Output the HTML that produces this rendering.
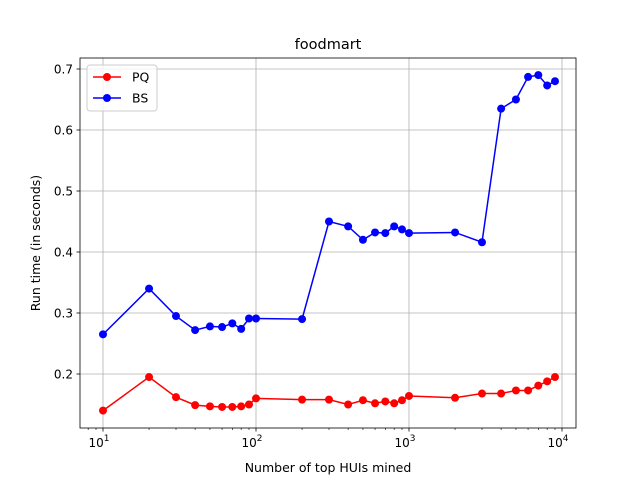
<!DOCTYPE html>
<html><head><meta charset="utf-8"><style>body{margin:0;background:#fff}svg{display:block;font-family:"DejaVu Sans","Liberation Sans",sans-serif}</style></head>
<body>
<svg id="chart" width="640" height="480"></svg>
<script>
const xVals=[10,20,30,40,50,60,70,80,90,100,200,300,400,500,600,700,800,900,1000,2000,3000,4000,5000,6000,7000,8000,9000];
const pqVals=[.140,.195,.162,.149,.147,.146,.146,.147,.150,.160,.158,.158,.150,.157,.152,.155,.152,.157,.164,.161,.168,.168,.173,.173,.181,.188,.195];
const bsVals=[.265,.340,.295,.272,.278,.277,.283,.274,.291,.291,.290,.450,.442,.420,.432,.431,.442,.437,.431,.432,.416,.635,.650,.687,.690,.673,.680];
const yTicks=[0.2,0.3,0.4,0.5,0.6,0.7];
const xTicks=[1,2,3,4];
const NS="http://www.w3.org/2000/svg";
const svg=document.getElementById('chart');
const L=80,R=576,T=58,B=428;
const sx=v=>103+153*(Math.log10(v)-1);
const sy=v=>374-(v-0.2)*610;
function el(t,a,p){const e=document.createElementNS(NS,t);for(const k in a)e.setAttribute(k,a[k]);(p||svg).appendChild(e);return e;}
// grid
yTicks.forEach(v=>{const g=el('line',{x1:L,x2:R,y1:sy(v),y2:sy(v),stroke:'#b0b0b0','stroke-width':0.8});


el('line',{x1:L-3.5,x2:L,y1:sy(v),y2:sy(v),stroke:'#000','stroke-width':0.8});
const t=el('text',{x:L-7,y:sy(v)+4.5,'text-anchor':'end','font-size':12});t.textContent=v.toFixed(1);

});
xTicks.forEach(p=>{const x=sx(Math.pow(10,p));const g=el('line',{x1:x,x2:x,y1:T,y2:B,stroke:'#b0b0b0','stroke-width':0.8});


el('line',{x1:x,x2:x,y1:B,y2:B+3.5,stroke:'#000','stroke-width':0.8});
const t=el('text',{x:x-4,y:B+19,'text-anchor':'middle','font-size':12});t.innerHTML='10<tspan dy="-6" font-size="9">'+p+'</tspan>';

});
for(let p=0;p<5;p++)for(let m=2;m<10;m++){const v=m*Math.pow(10,p);const x=sx(v);if(x>L&&x<R)el('line',{x1:x,x2:x,y1:B,y2:B+2,stroke:'#000','stroke-width':0.6});}
function series(vals,color,name){const pts=xVals.map((x,i)=>sx(x)+','+sy(vals[i])).join(' ');
const pl=el('polyline',{points:pts,fill:'none',stroke:color,'stroke-width':1.5});


xVals.forEach((x,i)=>{const c=el('circle',{cx:sx(x),cy:sy(vals[i]),r:4,fill:color});

});}
series(pqVals,'#ff0000','pq');series(bsVals,'#0000ff','bs');
const fr=el('rect',{x:L,y:T,width:R-L,height:B-T,fill:'none',stroke:'#000','stroke-width':0.8});


const ti=el('text',{x:328,y:49,'text-anchor':'middle','font-size':14.5});ti.textContent='foodmart';


const xl=el('text',{x:328,y:472,'text-anchor':'middle','font-size':12.5});xl.textContent='Number of top HUIs mined';


const yl=el('text',{x:0,y:0,'text-anchor':'middle','font-size':12.5,transform:'translate(40,243) rotate(-90)'});yl.textContent='Run time (in seconds)';


const lg=el('g',{});


el('rect',{x:87,y:65,width:70,height:46,rx:3,fill:'#fff','fill-opacity':0.8,stroke:'#ccc'},lg);
[['PQ','#ff0000',77],['BS','#0000ff',98]].forEach(([n,c,y])=>{
el('line',{x1:93,x2:121,y1:y,y2:y,stroke:c,'stroke-width':1.5},lg);
el('circle',{cx:107,cy:y,r:4,fill:c},lg);
const t=el('text',{x:132,y:y+4.5,'font-size':12.5},lg);t.textContent=n;

});
</script>
</body></html>
